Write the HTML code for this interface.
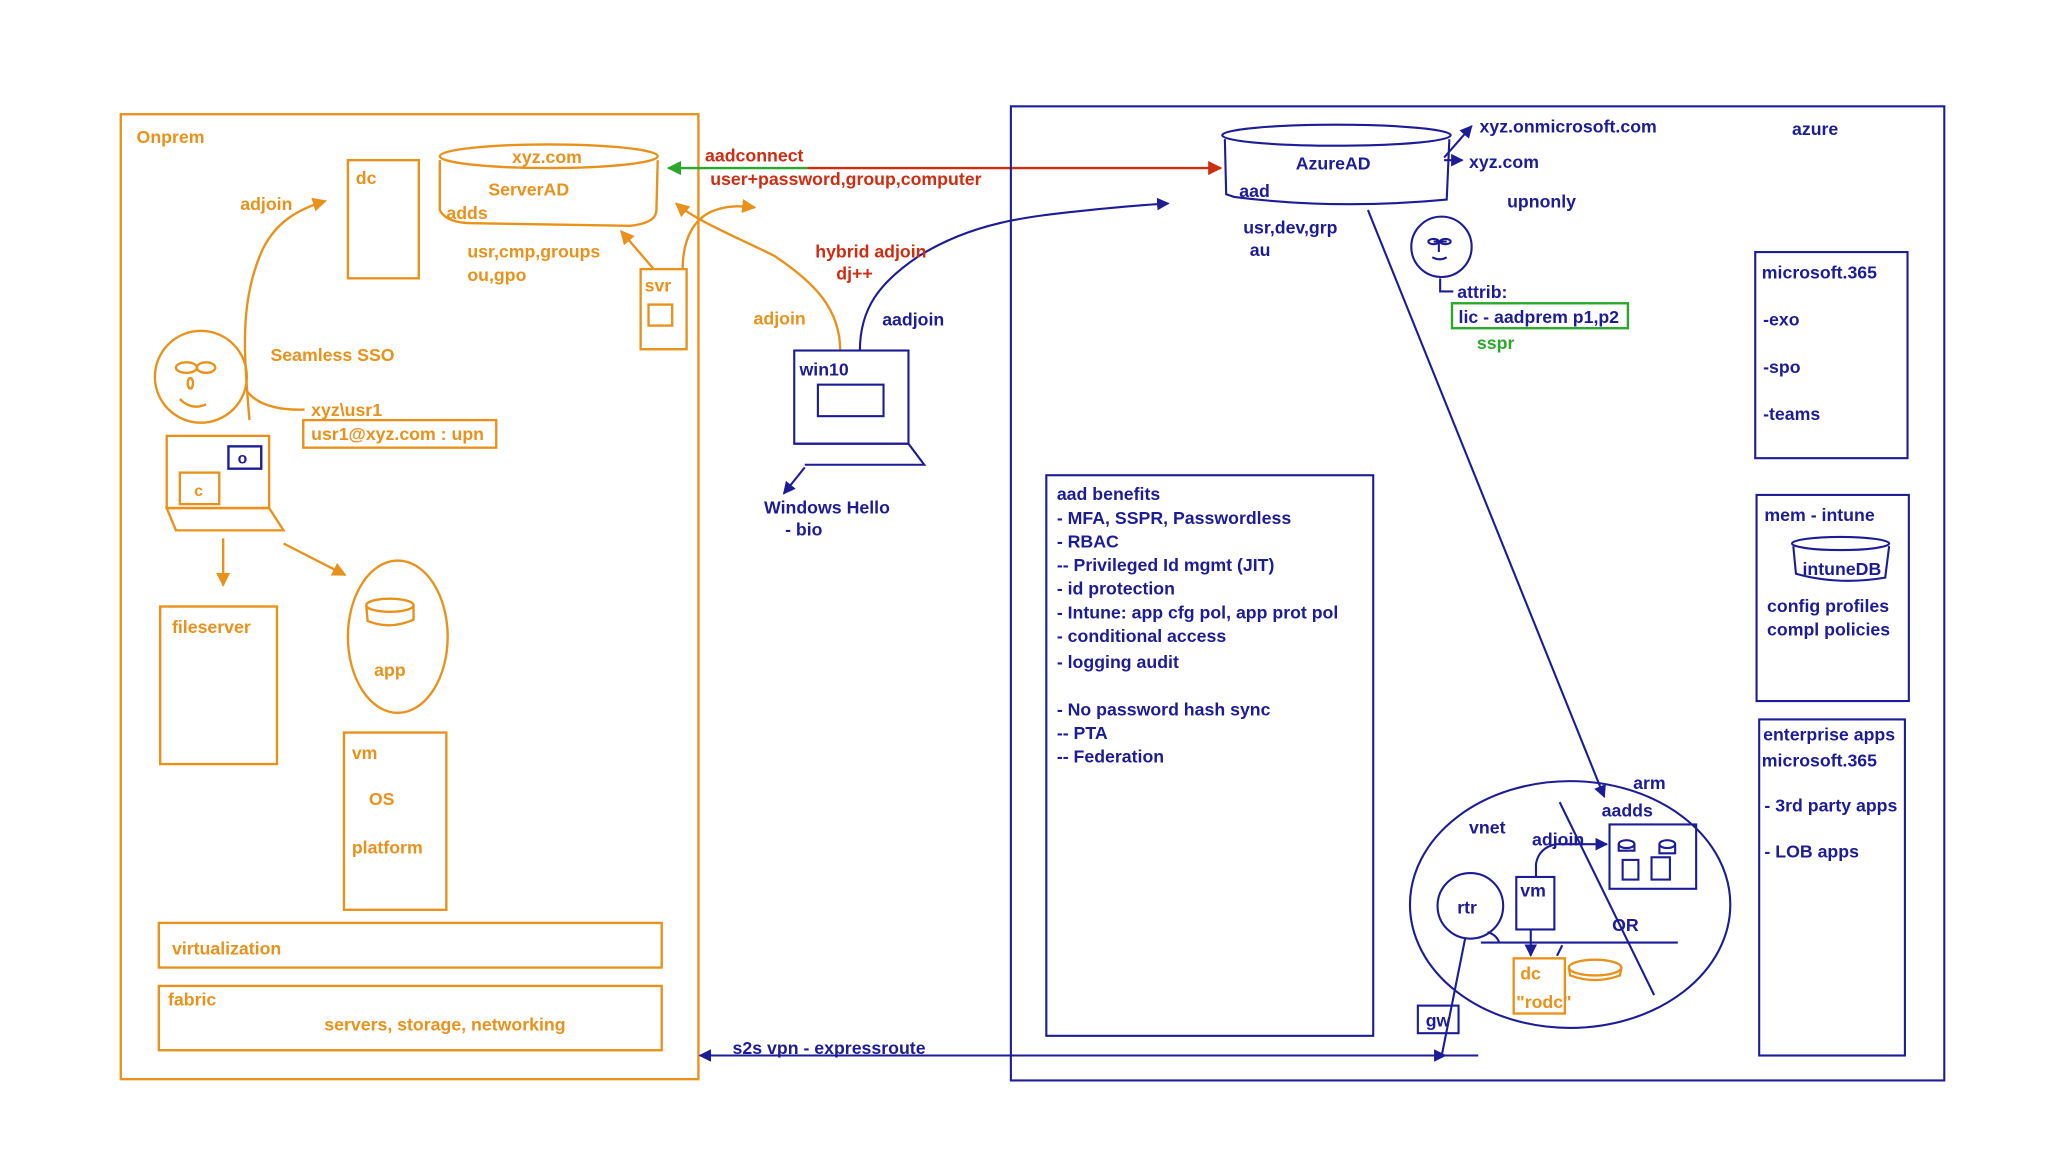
<!DOCTYPE html>
<html><head><meta charset="utf-8"><style>
html,body{margin:0;padding:0;background:#fff;width:2048px;height:1152px;overflow:hidden}
svg{display:block}
text{font-family:"Liberation Sans",Arial,sans-serif;font-size:13.5px;font-weight:bold}
.o{fill:#e8921c}.b{fill:#1c1c96}.r{fill:#d02c10}.g{fill:#2aa82a}
</style></head><body>
<svg width="2048" height="1152" viewBox="0 0 1560 877.5" preserveAspectRatio="none" xmlns="http://www.w3.org/2000/svg">
<defs>
<marker id="ao" viewBox="0 0 10 10" refX="9" refY="5" markerWidth="6" markerHeight="6" orient="auto"><path d="M0,0L10,5L0,10z" fill="#e8921c"/></marker>
<marker id="ab" viewBox="0 0 10 10" refX="9" refY="5" markerWidth="6" markerHeight="6" orient="auto"><path d="M0,0L10,5L0,10z" fill="#1c1c96"/></marker>
<marker id="ar" viewBox="0 0 10 10" refX="9" refY="5" markerWidth="6" markerHeight="6" orient="auto"><path d="M0,0L10,5L0,10z" fill="#d02c10"/></marker>
<marker id="ag" viewBox="0 0 10 10" refX="9" refY="5" markerWidth="6" markerHeight="6" orient="auto"><path d="M0,0L10,5L0,10z" fill="#2aa82a"/></marker>
</defs>
<g fill="none" stroke="#e8921c" stroke-width="1.8">
<rect x="92" y="87" width="440" height="735"/>
<rect x="265" y="122" width="54" height="90"/>
<ellipse cx="418" cy="119" rx="83" ry="9"/>
<path d="M335,122 L335,160 Q340,170 360,170 L480,172 Q500,170 500,160 L501,122"/>
<rect x="488" y="205" width="35" height="61"/>
<rect x="494" y="232" width="18" height="16"/>
<path d="M190,320 C186,270 182,230 200,190 C210,170 225,160 248,153" marker-end="url(#ao)"/>
<circle cx="153" cy="287" r="35"/>
<ellipse cx="142" cy="280" rx="8" ry="4"/><ellipse cx="157" cy="280" rx="7" ry="4"/>
<ellipse cx="145" cy="292" rx="2" ry="4"/>
<path d="M137,304 Q146,313 157,308"/>
<path d="M188,298 Q200,313 232,312"/>
<rect x="231" y="320" width="147" height="21"/>
<rect x="127" y="332" width="78" height="55"/>
<path d="M127,387 L205,387 L216,404 L134,404 Z"/>
<rect x="137" y="360" width="30" height="24"/>
<path d="M170,410 L170,446" marker-end="url(#ao)"/>
<path d="M216,414 L263,438" marker-end="url(#ao)"/>
<rect x="122" y="462" width="89" height="120"/>
<ellipse cx="303" cy="485" rx="38" ry="58"/>
<ellipse cx="297" cy="461" rx="18" ry="5"/>
<path d="M279,461 L280,473 Q297,480 315,472 L315,461"/>
<rect x="262" y="558" width="78" height="135"/>
<rect x="121" y="703" width="383" height="34"/>
<rect x="121" y="751" width="383" height="49"/>
<path d="M498,205 L473,176" marker-end="url(#ao)"/>
<path d="M520,205 C520,180 530,165 545,160 C556,156 566,157 575,158" marker-end="url(#ao)"/>
<path d="M640,267 C640,235 620,215 590,195 C560,180 530,168 515,155" marker-end="url(#ao)"/>
<rect x="1153" y="730" width="39" height="42"/>
<ellipse cx="1215" cy="737" rx="20" ry="6"/>
<path d="M1195,737 L1196,743 Q1215,750 1234,743 L1235,737"/>
</g>
<rect x="174" y="340" width="25" height="17" fill="none" stroke="#1c1c96" stroke-width="1.8"/>
<path d="M615,128 L509,128" stroke="#2aa82a" stroke-width="1.8" marker-end="url(#ag)"/>
<path d="M615,128 L930,128" stroke="#d02c10" stroke-width="1.8" marker-end="url(#ar)"/>
<g fill="none" stroke="#1c1c96" stroke-width="1.6">
<path d="M655,267 C655,235 670,215 700,195 C740,170 780,165 830,160 C850,158 870,156 890,155" marker-end="url(#ab)"/>
<rect x="605" y="267" width="87" height="71"/>
<rect x="623" y="293" width="50" height="24"/>
<path d="M605,338 L692,338 L704,354 L613,354"/>
<path d="M613,356 L597,376" marker-end="url(#ab)"/>
<rect x="770" y="81" width="711" height="742"/>
<ellipse cx="1018" cy="103" rx="87" ry="8"/>
<path d="M933,106 L934,148 L940,150 Q1018,160 1102,152 L1104,106"/>
<path d="M1100,120 L1121,96" marker-end="url(#ab)"/>
<path d="M1100,122 L1114,122" marker-end="url(#ab)"/>
<circle cx="1098" cy="188" r="23"/>
<path d="M1092,184 h10 M1096,184 v8 M1091,196 q6,3 11,0"/>
<ellipse cx="1092" cy="184" rx="4" ry="2"/><ellipse cx="1101" cy="184" rx="4" ry="2"/>
<path d="M1097,212 L1097,222 L1107,222"/>
<path d="M1042,160 L1222,607" marker-end="url(#ab)"/>
<rect x="797" y="362" width="249" height="427"/>
<rect x="1337" y="192" width="116" height="157"/>
<rect x="1338" y="377" width="116" height="157"/>
<ellipse cx="1402" cy="414" rx="37" ry="5"/>
<path d="M1366,416 L1368,437 Q1400,446 1436,440 L1439,416"/>
<rect x="1340" y="548" width="111" height="256"/>
<ellipse cx="1196" cy="689" rx="122" ry="94"/>
<rect x="1226" y="628" width="66" height="49"/>
<rect x="1236" y="655" width="12" height="15"/><rect x="1258" y="653" width="14" height="17"/>
<ellipse cx="1239" cy="643" rx="6" ry="3"/><path d="M1233,643 v5 h12 v-5"/>
<ellipse cx="1270" cy="643" rx="6" ry="3"/><path d="M1264,643 v7 h12 v-7"/>
<path d="M1170,668 L1170,658 Q1172,646 1185,643 L1224,643" marker-end="url(#ab)"/>
<rect x="1155" y="668" width="29" height="40"/>
<path d="M1166,708 L1166,728" marker-end="url(#ab)"/>
<circle cx="1120" cy="690" r="25"/>
<path d="M1128,718 L1278,718"/>
<path d="M1133,710 Q1140,712 1142,718"/>
<path d="M1188,611 L1260,758"/>
<path d="M1186,728 L1190,720"/>
<rect x="1080" y="766" width="31" height="21"/>
<path d="M1116,715 L1098,805"/>
<path d="M1126,804 L533,804" marker-end="url(#ab)"/>
<path d="M1080,804 L1101,804" marker-end="url(#ab)"/>
</g>
<rect x="1106" y="231" width="134" height="19" fill="none" stroke="#2aa82a" stroke-width="1.8"/>

<text x="104" y="109" class="o">Onprem</text>
<text x="271" y="140" class="o">dc</text>
<text x="390" y="124" class="o">xyz.com</text>
<text x="372" y="149" class="o">ServerAD</text>
<text x="340" y="167" class="o">adds</text>
<text x="356" y="196" class="o">usr,cmp,groups</text>
<text x="356" y="214" class="o">ou,gpo</text>
<text x="491" y="222" class="o">svr</text>
<text x="183" y="160" class="o">adjoin</text>
<text x="206" y="275" class="o">Seamless SSO</text>
<text x="237" y="317" class="o">xyz\usr1</text>
<text x="237" y="335" class="o">usr1@xyz.com : upn</text>
<text x="181" y="353" class="b" style="font-size:12px">o</text>
<text x="148" y="378" class="o" style="font-size:12px">c</text>
<text x="131" y="482" class="o">fileserver</text>
<text x="285" y="515" class="o">app</text>
<text x="268" y="578" class="o">vm</text>
<text x="281" y="613" class="o">OS</text>
<text x="268" y="650" class="o">platform</text>
<text x="131" y="727" class="o">virtualization</text>
<text x="128" y="766" class="o">fabric</text>
<text x="247" y="785" class="o">servers, storage, networking</text>
<text x="537" y="123" class="r">aadconnect</text>
<text x="541" y="141" class="r">user+password,group,computer</text>
<text x="621" y="196" class="r">hybrid adjoin</text>
<text x="637" y="213" class="r">dj++</text>
<text x="574" y="247" class="o">adjoin</text>
<text x="672" y="248" class="b">aadjoin</text>
<text x="609" y="286" class="b">win10</text>
<text x="582" y="391" class="b">Windows Hello</text>
<text x="598" y="408" class="b">- bio</text>
<text x="558" y="803" class="b">s2s vpn - expressroute</text>
<text x="1365" y="103" class="b">azure</text>
<text x="987" y="129" class="b">AzureAD</text>
<text x="944" y="150" class="b">aad</text>
<text x="947" y="178" class="b">usr,dev,grp</text>
<text x="952" y="195" class="b">au</text>
<text x="1127" y="101" class="b">xyz.onmicrosoft.com</text>
<text x="1119" y="128" class="b">xyz.com</text>
<text x="1148" y="158" class="b">upnonly</text>
<text x="1110" y="227" class="b">attrib:</text>
<text x="1111" y="246" class="b">lic - aadprem p1,p2</text>
<text x="1125" y="266" class="g">sspr</text>
<text x="805" y="381" class="b">aad benefits</text>
<text x="805" y="399" class="b">- MFA, SSPR, Passwordless</text>
<text x="805" y="417" class="b">- RBAC</text>
<text x="805" y="435" class="b">-- Privileged Id mgmt (JIT)</text>
<text x="805" y="453" class="b">- id protection</text>
<text x="805" y="471" class="b">- Intune: app cfg pol, app prot pol</text>
<text x="805" y="489" class="b">- conditional access</text>
<text x="805" y="509" class="b">- logging audit</text>
<text x="805" y="545" class="b">- No password hash sync</text>
<text x="805" y="563" class="b">-- PTA</text>
<text x="805" y="581" class="b">-- Federation</text>
<text x="1342" y="212" class="b">microsoft.365</text>
<text x="1343" y="248" class="b">-exo</text>
<text x="1343" y="284" class="b">-spo</text>
<text x="1343" y="320" class="b">-teams</text>
<text x="1344" y="397" class="b">mem - intune</text>
<text x="1373" y="438" class="b">intuneDB</text>
<text x="1346" y="466" class="b">config profiles</text>
<text x="1346" y="484" class="b">compl policies</text>
<text x="1343" y="564" class="b">enterprise apps</text>
<text x="1342" y="584" class="b">microsoft.365</text>
<text x="1344" y="618" class="b">- 3rd party  apps</text>
<text x="1344" y="653" class="b">- LOB apps</text>
<text x="1119" y="635" class="b">vnet</text>
<text x="1244" y="601" class="b">arm</text>
<text x="1220" y="622" class="b">aadds</text>
<text x="1167" y="644" class="b">adjoin</text>
<text x="1158" y="683" class="b">vm</text>
<text x="1110" y="696" class="b">rtr</text>
<text x="1228" y="709" class="b">OR</text>
<text x="1158" y="746" class="o">dc</text>
<text x="1155" y="768" class="o">"rodc"</text>
<text x="1086" y="782" class="b">gw</text>
</svg>
</body></html>
